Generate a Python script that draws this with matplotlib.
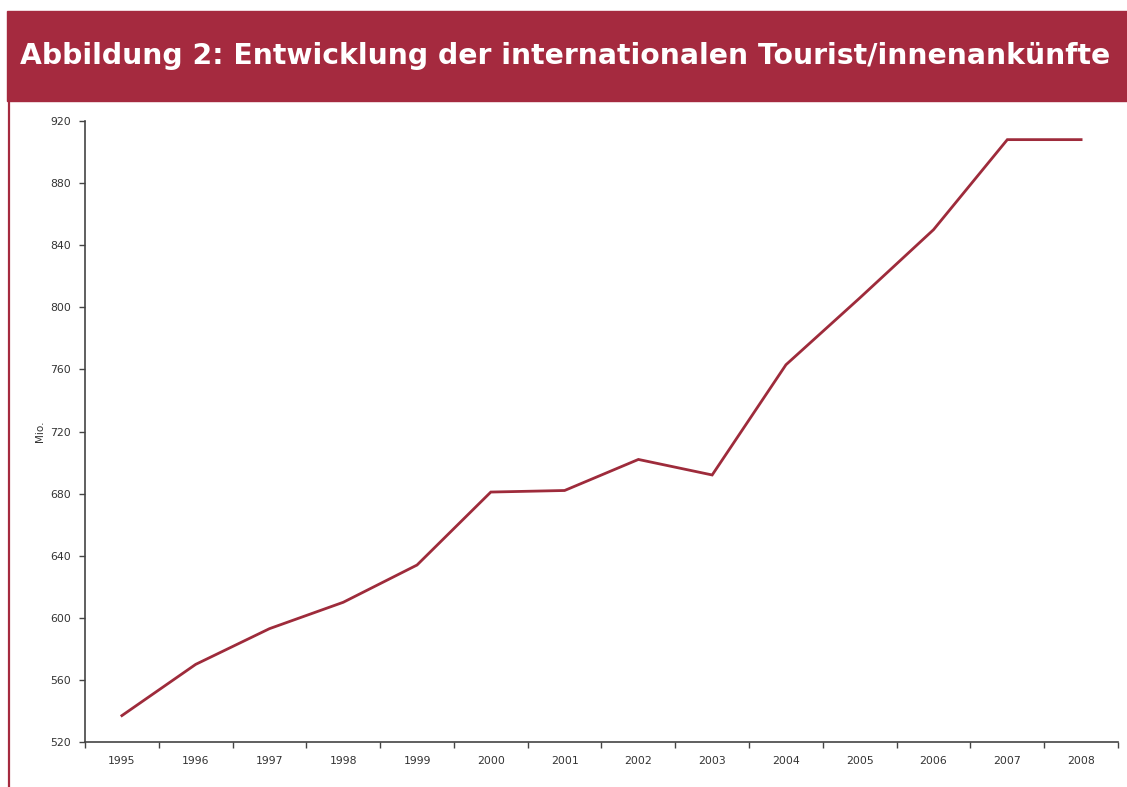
import numpy as np
import matplotlib
matplotlib.use("Agg")
import matplotlib.pyplot as plt
from matplotlib.patches import Rectangle
from matplotlib.lines import Line2D

years = ["1995", "1996", "1997", "1998", "1999", "2000", "2001",
         "2002", "2003", "2004", "2005", "2006", "2007", "2008"]
arrivals = [537, 570, 593, 610, 634, 681, 682, 702, 692, 763, 806, 850, 908, 908]
y_ticks = [520, 560, 600, 640, 680, 720, 760, 800, 840, 880, 920]

title = "Abbildung 2: Entwicklung der internationalen Tourist/innenankünfte"
red = "#a52a3f"
line_red = "#9e2b3b"
axis_col = "#444444"

fig = plt.figure(figsize=(11.27, 7.87), dpi=100)

# header banner and left rule
fig.patches.append(Rectangle((7 / 1127, 1 - 101 / 787), 1, 90 / 787,
                             transform=fig.transFigure, color=red, zorder=0))
fig.lines.append(Line2D([8.5 / 1127, 8.5 / 1127], [0, 1 - 101 / 787],
                        transform=fig.transFigure, color=red, lw=1.6))
fig.text(20 / 1127, 1 - 56 / 787, title, color="white", fontsize=20.3,
         fontweight="bold", family="DejaVu Sans", va="center", ha="left")

ax = fig.add_axes([85 / 1127, 45 / 787, (1118 - 85) / 1127, (742 - 121) / 787])
x = np.arange(len(years))
ax.plot(x, arrivals, color=line_red, lw=2.0, solid_joinstyle="miter")

ax.set_xlim(-0.5, len(years) - 0.5)
ax.set_ylim(520, 920)
ax.set_yticks(y_ticks)
ax.set_xticks(np.arange(len(years) + 1) - 0.5)
ax.set_xticklabels([])
ax.set_xticks(x, minor=True)
ax.set_xticklabels(years, minor=True)
ax.tick_params(axis="x", which="minor", length=0, pad=10, labelsize=7.8, colors="#333333")
ax.tick_params(axis="x", which="major", length=4, width=1, color=axis_col)
ax.tick_params(axis="y", length=4, width=1, color=axis_col, labelsize=7.8,
               labelcolor="#333333", pad=6)

for s in ["top", "right"]:
    ax.spines[s].set_visible(False)
for s in ["left", "bottom"]:
    ax.spines[s].set_color(axis_col)
    ax.spines[s].set_linewidth(1.2)

ax.set_ylabel("Mio.", fontsize=7.5, color="#333333", labelpad=4)

fig.savefig("out.png", dpi=100)
